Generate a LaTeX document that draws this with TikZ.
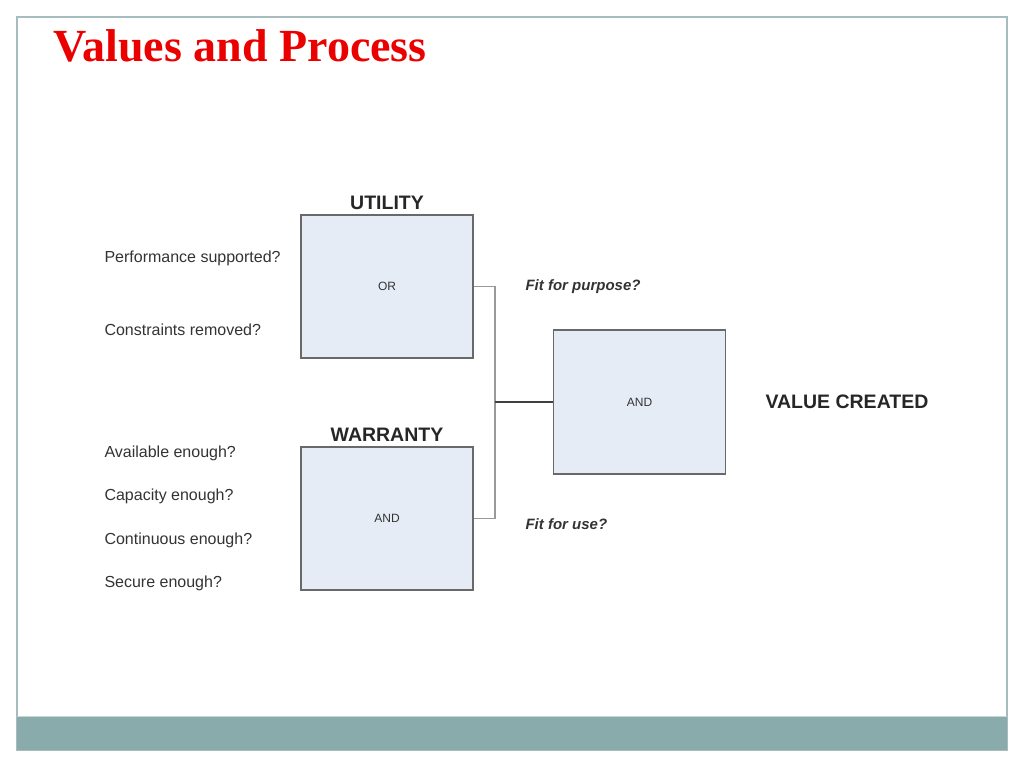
\documentclass[tikz,border=0pt]{standalone}
\usepackage{fontspec}
\setmainfont{Liberation Sans}
\newfontfamily\titlefont{Liberation Serif Bold}
\usetikzlibrary{positioning,calc}
\definecolor{vpframe}{RGB}{167,188,190}
\definecolor{vpfoot}{RGB}{138,171,171}
\definecolor{vpbox}{RGB}{230,236,246}
\definecolor{vpedge}{RGB}{105,105,105}
\definecolor{vpred}{RGB}{235,0,0}
\begin{document}
\begin{tikzpicture}[
  x=1pt,y=-1pt,
  gate/.style={draw=vpedge,fill=vpbox,line width=1.8pt,
               minimum width=172pt,minimum height=143pt,
               font=\fontsize{12}{14}\selectfont,text=black!80},
  head/.style={font=\fontsize{19.5}{21}\selectfont\bfseries,text=black!85},
  quest/.style={anchor=west,font=\fontsize{16}{18}\selectfont,text=black!80},
  fit/.style={anchor=west,font=\fontsize{15}{17}\selectfont\bfseries\itshape,
              text=black!80},
  link/.style={draw=gray!80,line width=1.8pt},
  node distance=3pt
]
\useasboundingbox (0,0) rectangle (1024,768);

% slide frame and footer
\draw[vpframe,line width=1.5pt] (17,17) rectangle (1007,750);
\fill[vpfoot] (17,716) rectangle (1007,750);
\draw[vpframe!60,line width=1pt] (17,716) -- (1007,716);

% title
\node[anchor=base west,text=vpred,
      font=\titlefont\fontsize{46}{50}\selectfont] (title) at (50,61)
  {Values and Process};

% gates
\node[gate] (util) at (387,286.5) {OR};
\node[gate] (warr) at (387,518.5) {AND};
\node[gate,minimum height=144pt] (value) at (639.5,402) {AND};

\node[head,above=1pt of util] (utilhd) {UTILITY};
\node[head,above=1pt of warr] (warrhd) {WARRANTY};
\node[head,anchor=west] (created) at (762,402) {VALUE CREATED};

% questions
\node[quest] (perf) at (101,258) {Performance supported?};
\node[quest] (cons) at (101,330) {Constraints removed?};
\node[quest] (avail) at (101,453) {Available enough?};
\node[quest] (capa) at (101,496) {Capacity enough?};
\node[quest] (cont) at (101,540) {Continuous enough?};
\node[quest] (secu) at (101,583) {Secure enough?};

\node[fit] (purpose) at (522,287) {Fit for purpose?};
\node[fit] (use) at (522,524) {Fit for use?};

% connectors
\coordinate (join) at (495,402);
\draw[link] (util.east) -| (join) |- (warr.east);
\draw[link,draw=black!75] (join) -- (value.west);

\end{tikzpicture}
\end{document}
